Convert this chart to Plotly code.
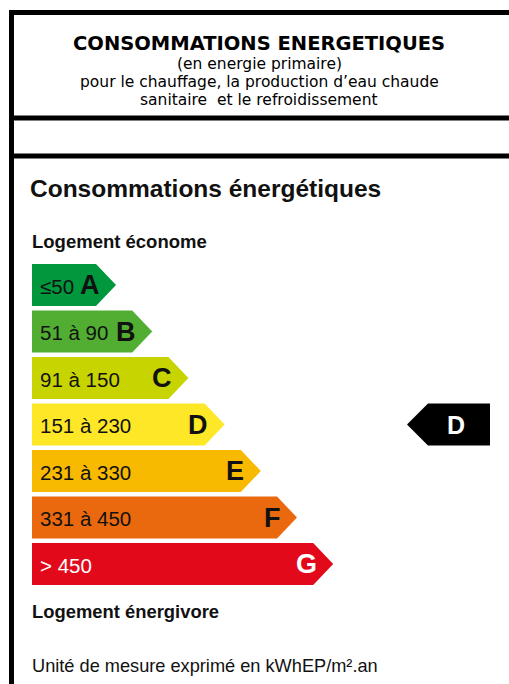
import plotly.graph_objects as go

# ---- data ----
classes = ["A", "B", "C", "D", "E", "F", "G"]
ranges = ["≤50", "51 à 90", "91 à 150", "151 à 230", "231 à 330", "331 à 450", "> 450"]
upper_bounds = [50, 90, 150, 230, 330, 450, None]
colors = ["#00973D", "#52AE32", "#C8D400", "#FDE726", "#F8BA00", "#EA680E", "#E20A1A"]
label_colors = ["#111111"] * 6 + ["#FFFFFF"]
current_class = "D"

title_main = "CONSOMMATIONS ENERGETIQUES"
title_sub = ["(en energie primaire)",
             "pour le chauffage, la production d’eau chaude",
             "sanitaire  et le refroidissement"]
section_title = "Consommations énergétiques"
top_label = "Logement économe"
bottom_label = "Logement énergivore"
unit_note = "Unité de mesure exprimé en kWhEP/m².an"

W, H = 509, 684
fig = go.Figure()

# ---- layout geometry ----
bar_x0 = 32
bar_top0 = 264
bar_pitch = 46.5
bar_h = 42
tip0 = 116
tip_step = 36.2

for i, (cl, rg, col, lc) in enumerate(zip(classes, ranges, colors, label_colors)):
    y0 = bar_top0 + i * bar_pitch
    y1 = y0 + bar_h
    xt = tip0 + i * tip_step
    xr = xt - 20
    fig.add_trace(go.Scatter(
        x=[bar_x0, xr, xt, xr, bar_x0, bar_x0],
        y=[y0, y0, (y0 + y1) / 2, y1, y1, y0],
        fill="toself", fillcolor=col, mode="lines",
        line=dict(width=0, color=col), hoverinfo="skip", showlegend=False))
    fig.add_annotation(x=38, y=(y0 + y1) / 2 + 1, text=rg, showarrow=False,
                       xanchor="left", yanchor="middle",
                       font=dict(family="Liberation Sans", size=20.5, color=lc))
    fig.add_annotation(x=xr + 5.5, y=(y0 + y1) / 2, text="<b>%s</b>" % cl, showarrow=False,
                       xanchor="right", yanchor="middle",
                       font=dict(family="Liberation Sans", size=27, color=lc))

# current class indicator
ci = classes.index(current_class)
iy0 = bar_top0 + ci * bar_pitch
iy1 = iy0 + bar_h
fig.add_trace(go.Scatter(
    x=[490, 428, 407, 428, 490, 490],
    y=[iy0, iy0, (iy0 + iy1) / 2, iy1, iy1, iy0],
    fill="toself", fillcolor="#000000", mode="lines",
    line=dict(width=0, color="#000000"), hoverinfo="skip", showlegend=False))
fig.add_annotation(x=456, y=(iy0 + iy1) / 2, text="<b>%s</b>" % current_class,
                   showarrow=False, xanchor="center", yanchor="middle",
                   font=dict(family="Liberation Sans", size=25, color="#FFFFFF"))

# frame lines
shapes = []
for yy in [12.5, 118, 156]:
    shapes.append(dict(type="line", xref="x", yref="y", x0=9, x1=W + 5, y0=yy, y1=yy,
                       line=dict(color="#000000", width=5)))
shapes.append(dict(type="line", xref="x", yref="y", x0=11.5, x1=11.5, y0=10, y1=H + 5,
                   line=dict(color="#000000", width=5)))

# header texts
fig.add_annotation(x=259, y=43, text="<b>%s</b>" % title_main, showarrow=False,
                   xanchor="center", yanchor="middle",
                   font=dict(family="DejaVu Sans", size=19.5, color="#000000"))
for t, yy in zip(title_sub, [64, 82, 100]):
    fig.add_annotation(x=259, y=yy, text=t, showarrow=False, xanchor="center",
                       yanchor="middle",
                       font=dict(family="DejaVu Sans", size=15.5, color="#000000"))

fig.add_annotation(x=28, y=188, text="<b>%s</b>" % section_title, showarrow=False,
                   xanchor="left", yanchor="middle",
                   font=dict(family="Liberation Sans", size=24.5, color="#111111"))
fig.add_annotation(x=30, y=241, text="<b>%s</b>" % top_label, showarrow=False,
                   xanchor="left", yanchor="middle",
                   font=dict(family="Liberation Sans", size=18.5, color="#111111"))
fig.add_annotation(x=30, y=611, text="<b>%s</b>" % bottom_label, showarrow=False,
                   xanchor="left", yanchor="middle",
                   font=dict(family="Liberation Sans", size=18.4, color="#111111"))
fig.add_annotation(x=30, y=666, text=unit_note, showarrow=False,
                   xanchor="left", yanchor="middle",
                   font=dict(family="Liberation Sans", size=18.2, color="#111111"))

fig.update_layout(
    width=W, height=H, margin=dict(l=0, r=0, t=0, b=0),
    paper_bgcolor="#FFFFFF", plot_bgcolor="#FFFFFF",
    xaxis=dict(range=[0, W], visible=False, fixedrange=True),
    yaxis=dict(range=[H, 0], visible=False, fixedrange=True),
    shapes=shapes, showlegend=False,
)

fig.write_html("out.html", config={"displayModeBar": False},
               post_script="document.body.style.margin='0px';document.body.style.overflow='hidden';")
